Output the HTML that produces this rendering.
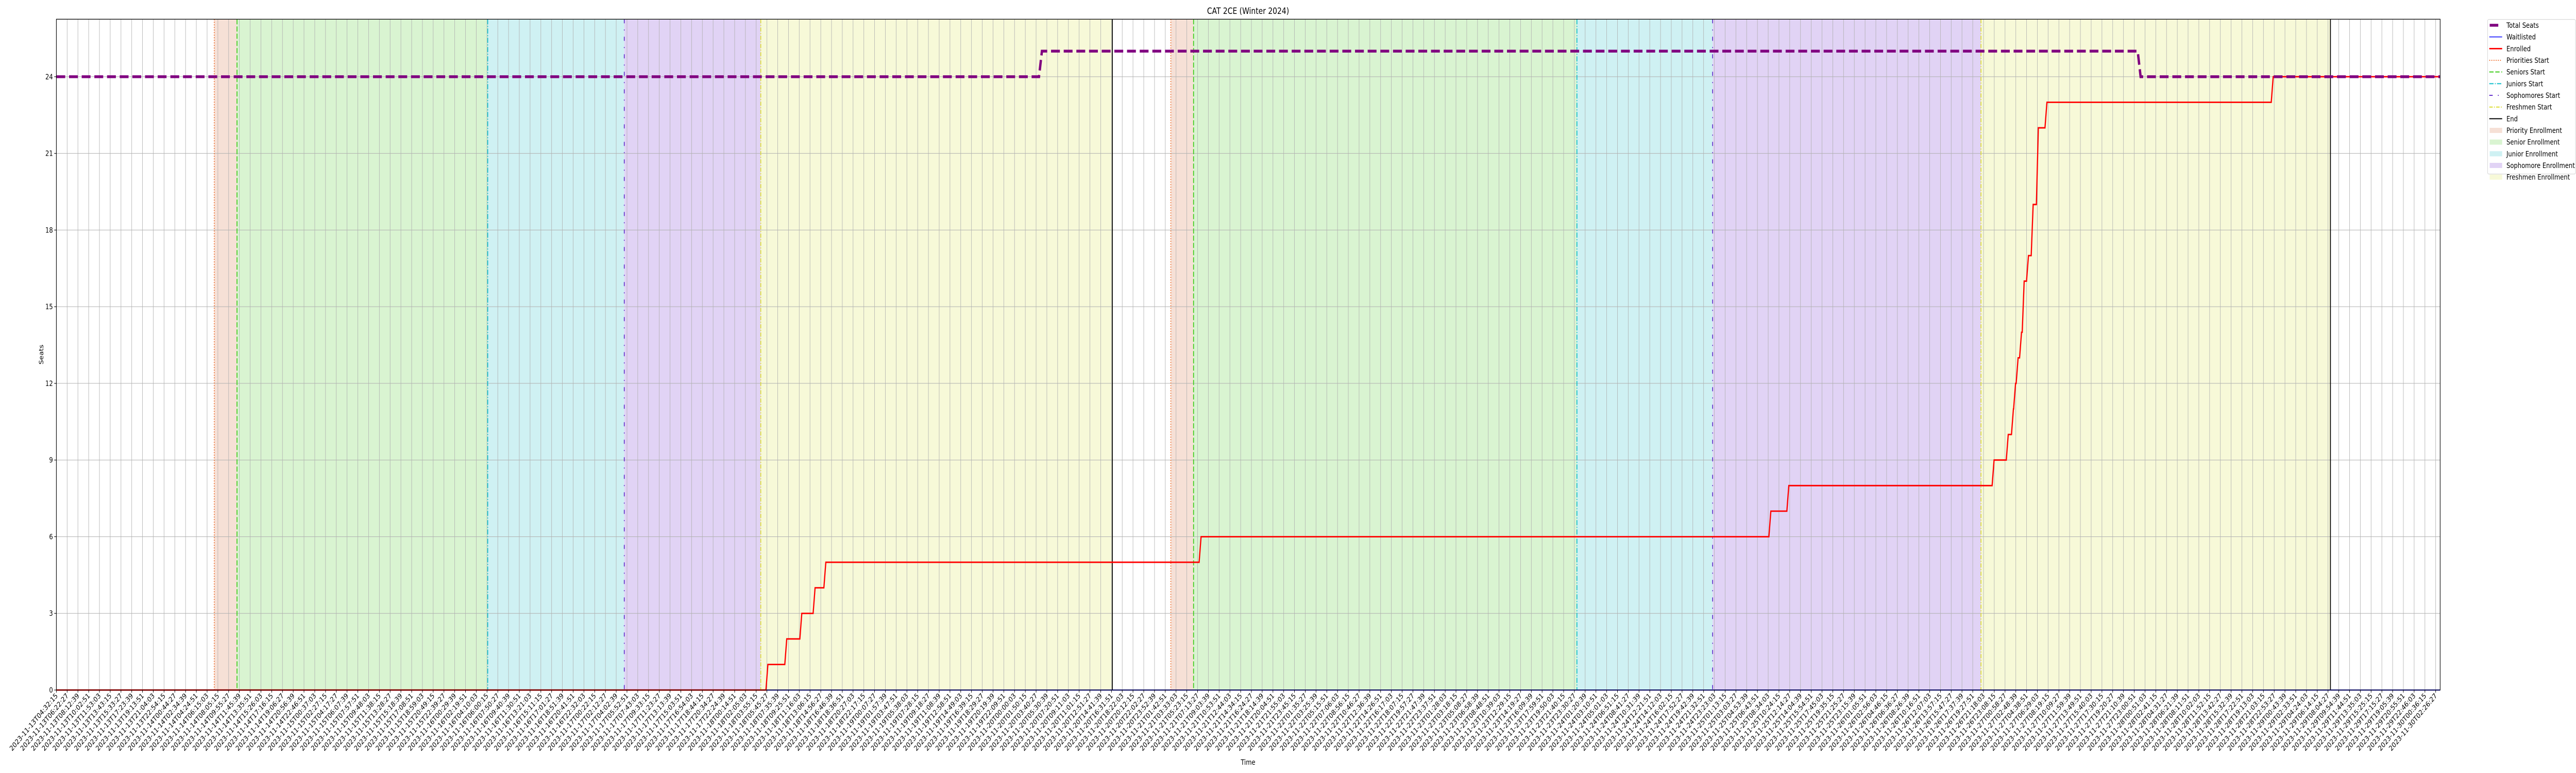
<!DOCTYPE html>
<html><head><meta charset="utf-8"><title>CAT 2CE (Winter 2024)</title>
<style>html,body{margin:0;padding:0;background:#fff;width:100vw;height:100vh;overflow:hidden}svg{display:block;overflow:hidden;width:100vw;height:100vh}text{font-family:"DejaVu Sans","Liberation Sans",sans-serif}</style>
</head><body>
<svg id="chart" xmlns="http://www.w3.org/2000/svg" viewBox="0 0 6000 1500" preserveAspectRatio="none">
<rect width="6000" height="1500" fill="#fff"/>
<text x="2907" y="27" font-size="16.7" text-anchor="middle">CAT 2CE (Winter 2024)</text>
<text x="2907" y="1484" font-size="13.9" text-anchor="middle">Time</text>
<text transform="translate(101,688) rotate(-90)" font-size="13.9" text-anchor="middle">Seats</text>
<g id="bands"></g><g id="grid"></g><g id="vlines"></g><g id="series"></g><g id="axes"></g><g id="legend"></g>
</svg>
<script>
// ---- data (x in minutes since 2023-11-13T04:32:15) ----
const phaseNames = ["priority","senior","junior","sophomore","freshmen"];
const cycle1Starts = [1616, 1849, 4415, 5813, 7210];
const cycle1End = 10809;
const cycle2Starts = [11407, 11640, 15564, 16953, 19700];
const cycle2End = 23277;
const seatTimes = [0, 10058, 21304];
const seatValues = [24, 25, 24];
const enrollTimes = [0, 7263, 7456, 7610, 7746, 7856, 11697, 17529, 17713, 19814, 19959, 20012, 20034, 20060, 20095, 20122, 20166, 20214, 20267, 20355, 22671];
const enrollValues = [0, 1, 2, 3, 4, 5, 6, 7, 8, 9, 10, 11, 12, 13, 14, 16, 17, 19, 22, 23, 24];
const waitTimes = [0];
const waitValues = [0];
const yTicks = [0, 3, 6, 9, 12, 15, 18, 21, 24];
const tickStepMin = 110.2;
const tickCount = 222;
const startTime = "2023-11-13T04:32:15Z";

// ---- scales ----
const L = 131.3, R = 5683.6, T = 37.3, B = 1339;
const xMax = 24400, yMax = 26.25;
const X = m => L + (m / xMax) * (R - L);
const Y = v => B - (v / yMax) * (B - T);
const NS = "http://www.w3.org/2000/svg";
function mk(tag, attrs, parent) {
  const e = document.createElementNS(NS, tag);
  for (const k in attrs) e.setAttribute(k, attrs[k]);
  parent.appendChild(e);
  return e;
}
const gBands = document.getElementById('bands'), gGrid = document.getElementById('grid'),
      gV = document.getElementById('vlines'), gS = document.getElementById('series'),
      gA = document.getElementById('axes'), gL = document.getElementById('legend');
const bandColors = ["#f6e0d6", "#d9f4d1", "#cff1f3", "#e1d3f5", "#f7f9d8"];
const lineStyles = [
  {c: "#ee7030", d: "2,3"}, {c: "#3dcc1a", d: "10,4"}, {c: "#12bfcc", d: "10,3,2,3"},
  {c: "#6633cc", d: "8,12,2,12"}, {c: "#dddd33", d: "8,3,2,3"}
];
[[cycle1Starts, cycle1End, 1], [cycle2Starts, cycle2End, 2]].forEach(([starts, end, cyc]) => {
  starts.forEach((s, i) => {
    const e = i < starts.length - 1 ? starts[i + 1] : end;
    const r = mk('rect', {x: X(s), y: T, width: X(e) - X(s), height: B - T, fill: bandColors[i]}, gBands);
    
    
  });
});
// grid + x ticks
const t0 = Date.parse(startTime);
const pad = n => String(n).padStart(2, '0');
for (let i = 0; i < tickCount; i++) {
  const m = i * tickStepMin, x = X(m);
  const gl = mk('line', {x1: x, x2: x, y1: T, y2: B, stroke: "#b0b0b0", "stroke-width": 1}, gGrid);
  
  
  mk('line', {x1: x, x2: x, y1: B, y2: B + 5, stroke: "#000", "stroke-width": 1.1}, gA);
  const d = new Date(t0 + Math.round(m * 60) * 1000);
  const lab = d.getUTCFullYear() + '-' + pad(d.getUTCMonth() + 1) + '-' + pad(d.getUTCDate()) + 'T' + pad(d.getUTCHours()) + ':' + pad(d.getUTCMinutes()) + ':' + pad(d.getUTCSeconds());
  const t = mk('text', {transform: `translate(${x + 4},${B + 12}) rotate(-45)`, "font-size": 13.9, "text-anchor": "end"}, gA);
  t.textContent = lab;
  
  
}
yTicks.forEach(v => {
  const y = Y(v);
  const gl = mk('line', {x1: L, x2: R, y1: y, y2: y, stroke: "#b0b0b0", "stroke-width": 1}, gGrid);
  
  
  mk('line', {x1: L - 5, x2: L, y1: y, y2: y, stroke: "#000", "stroke-width": 1.1}, gA);
  const t = mk('text', {x: L - 8, y: y + 5, "font-size": 13.9, "text-anchor": "end"}, gA);
  t.textContent = v;
  
  
});
// vertical markers
[[cycle1Starts, cycle1End, 1], [cycle2Starts, cycle2End, 2]].forEach(([starts, end, cyc]) => {
  starts.forEach((s, i) => {
    const ln = mk('line', {x1: X(s), x2: X(s), y1: T, y2: B, stroke: lineStyles[i].c, "stroke-width": 2, "stroke-dasharray": lineStyles[i].d}, gV);
    
    
  });
  const el = mk('line', {x1: X(end), x2: X(end), y1: T, y2: B, stroke: "#000", "stroke-width": 2}, gV);
  
  
});
// step series with short ramps
function stepPath(times, vals, ramp) {
  let d = `M${X(times[0])},${Y(vals[0])}`;
  for (let i = 1; i < times.length; i++) {
    d += ` L${X(times[i])},${Y(vals[i - 1])} L${X(times[i] + ramp)},${Y(vals[i])}`;
  }
  d += ` L${X(xMax)},${Y(vals[vals.length - 1])}`;
  return d;
}
const wp = mk('path', {d: stepPath(waitTimes, waitValues, 20), fill: "none", stroke: "#0000ff", "stroke-width": 2.1}, gS);


const ep = mk('path', {d: stepPath(enrollTimes, enrollValues, 20), fill: "none", stroke: "#ff0000", "stroke-width": 2.8}, gS);


const sp = mk('path', {d: stepPath(seatTimes, seatValues, 30), fill: "none", stroke: "#800080", "stroke-width": 5.5, "stroke-dasharray": "20.6,8.9"}, gS);


const frame = mk('rect', {x: L, y: T, width: R - L, height: B - T, fill: "none", stroke: "#000", "stroke-width": 1.3}, gA);


// legend
const lb = mk('rect', {x: 5794, y: 37.7, width: 205, height: 300, rx: 3, fill: "#fff", stroke: "#d0d0d0", "stroke-width": 1}, gL);


const legendLabels = ["Total Seats","Waitlisted","Enrolled","Priorities Start","Seniors Start","Juniors Start","Sophomores Start","Freshmen Start","End","Priority Enrollment","Senior Enrollment","Junior Enrollment","Sophomore Enrollment","Freshmen Enrollment"];
legendLabels.forEach((lab, i) => {
  const y = 49 + i * 22.67;
  const g = mk('g', {}, gL);
  
  
  if (i === 0) mk('line', {x1: 5799, x2: 5819, y1: y, y2: y, stroke: "#800080", "stroke-width": 5.5}, g);
  else if (i === 1) mk('line', {x1: 5798, x2: 5828, y1: y, y2: y, stroke: "#0000ff", "stroke-width": 1.5}, g);
  else if (i === 2) mk('line', {x1: 5798, x2: 5828, y1: y, y2: y, stroke: "#ff0000", "stroke-width": 2.8}, g);
  else if (i <= 7) mk('line', {x1: 5798, x2: 5828, y1: y, y2: y, stroke: lineStyles[i - 3].c, "stroke-width": 2, "stroke-dasharray": lineStyles[i - 3].d}, g);
  else if (i === 8) mk('line', {x1: 5798, x2: 5828, y1: y, y2: y, stroke: "#000", "stroke-width": 2}, g);
  else mk('rect', {x: 5799, y: y - 5, width: 29, height: 10, fill: bandColors[i - 9]}, g);
  const t = mk('text', {x: 5838, y: y + 5, "font-size": 13.9}, g);
  t.textContent = lab;
});
</script>
</body></html>
